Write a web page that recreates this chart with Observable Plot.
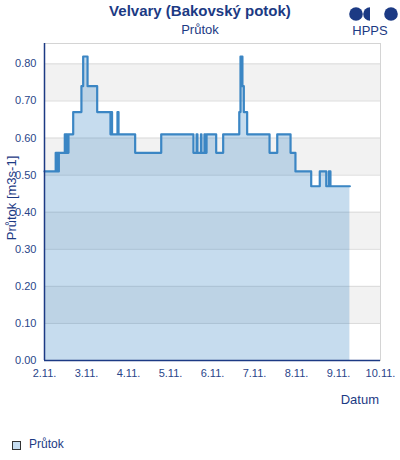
<!DOCTYPE html>
<html>
<head>
<meta charset="utf-8">
<script src="https://cdn.jsdelivr.net/npm/d3@7"></script>
<script src="https://cdn.jsdelivr.net/npm/@observablehq/plot@0.6"></script>
<style>
  html, body { margin: 0; padding: 0; background: #fff; }
  body { width: 400px; height: 460px; position: relative; overflow: hidden; font-family: "Liberation Sans", Arial, sans-serif; color: #1c3a84; }
  .abs { position: absolute; white-space: nowrap; }
  #chart { position: absolute; left: 0; top: 0; }
</style>
</head>
<body>
<div id="chart"></div>
<div class="abs" style="left:0;width:400px;top:2px;text-align:center;font-size:15px;font-weight:bold;">Velvary (Bakovský potok)</div>
<div class="abs" style="left:0;width:400px;top:22px;text-align:center;font-size:13px;">Průtok</div>
<svg class="abs" style="left:340px;top:0px;" width="60" height="40">
  <circle cx="16" cy="14" r="6.8" fill="#1c3a84"/>
  <path d="M30,7.2 A6.8,6.8 0 0 0 30,20.8 Z" fill="#1c3a84"/>
  <circle cx="51" cy="14" r="6.8" fill="#1c3a84"/>
  <text x="30" y="35" text-anchor="middle" font-size="13" fill="#1c3a84" font-family="Liberation Sans, Arial, sans-serif">HPPS</text>
</svg>
<div class="abs" style="left:11px;top:198px;font-size:13px;transform:translate(-50%,-50%) rotate(-90deg);">Průtok [m3s-1]</div>
<div class="abs" style="right:21px;top:392px;font-size:13px;">Datum</div>
<div class="abs" style="left:12px;top:441px;width:7px;height:7px;border:1px solid #333;background:#c6ddf0;"></div>
<div class="abs" style="left:29px;top:437px;font-size:12px;">Průtok</div>
<script>
// Data (step series, time of change -> flow in m3/s)
const times = [
  "2023-11-02T00:00","2023-11-02T06:24","2023-11-02T06:54","2023-11-02T07:18","2023-11-02T07:48","2023-11-02T08:12",
  "2023-11-02T11:36","2023-11-02T12:12","2023-11-02T12:36","2023-11-02T13:12","2023-11-02T13:42","2023-11-02T16:24",
  "2023-11-02T21:06","2023-11-02T22:06","2023-11-03T00:36","2023-11-03T06:06","2023-11-03T13:42","2023-11-03T14:12",
  "2023-11-03T14:36","2023-11-03T17:42","2023-11-03T18:18","2023-11-04T03:48","2023-11-04T18:42","2023-11-05T13:06",
  "2023-11-05T14:54","2023-11-05T15:24","2023-11-05T17:24","2023-11-05T17:42","2023-11-05T19:24","2023-11-05T20:00",
  "2023-11-05T20:36","2023-11-06T02:06","2023-11-06T06:06","2023-11-06T15:18","2023-11-06T16:00","2023-11-06T17:06",
  "2023-11-06T17:54","2023-11-06T19:48","2023-11-07T08:36","2023-11-07T13:00","2023-11-07T20:36","2023-11-07T23:24",
  "2023-11-08T08:24","2023-11-08T13:18","2023-11-08T17:00","2023-11-08T18:30","2023-11-08T19:24","2023-11-09T06:30"
];
const flows = [
  0.51,0.56,0.51,0.56,0.51,0.56,
  0.61,0.56,0.61,0.56,0.61,0.67,
  0.74,0.82,0.74,0.67,0.61,0.67,
  0.61,0.67,0.61,0.56,0.61,0.56,
  0.61,0.56,0.61,0.56,0.61,0.56,
  0.61,0.56,0.61,0.67,0.82,0.74,
  0.67,0.61,0.56,0.61,0.56,0.51,
  0.47,0.51,0.47,0.51,0.47,0.47
];
const xTicks = ["2023-11-02","2023-11-03","2023-11-04","2023-11-05","2023-11-06","2023-11-07","2023-11-08","2023-11-09","2023-11-10"];
const yTicks = [0, 0.1, 0.2, 0.3, 0.4, 0.5, 0.6, 0.7, 0.8];
const bandStarts = [0.1, 0.3, 0.5, 0.7];

const parse = d3.utcParse("%Y-%m-%dT%H:%M");
const data = times.map((t, i) => ({date: parse(t), flow: flows[i]}));
const xT = xTicks.map(d => d3.utcParse("%Y-%m-%d")(d));
const x0 = xT[0], x1 = xT[xT.length - 1];
const bands = bandStarts.map(b => ({y1: b, y2: b + 0.1}));

const navy = "#1c3a84";
const blue = "#3b86c4";

const chart = Plot.plot({
  width: 400,
  height: 410,
  marginLeft: 44,
  marginRight: 20,
  marginTop: 43,
  marginBottom: 50,
  style: {fontFamily: "Liberation Sans, Arial, sans-serif", fontSize: "11px", color: navy, background: "transparent"},
  x: {type: "utc", domain: [x0, x1]},
  y: {domain: [0, 0.855]},
  marks: [
    Plot.rect(bands, {x1: () => x0, x2: () => x1, y1: "y1", y2: "y2", fill: "#f2f2f2"}),
    Plot.ruleY(yTicks.slice(1), {stroke: "#dadada", strokeWidth: 1}),
    Plot.frame({stroke: "#d4d4d4"}),
    Plot.areaY(data, {x: "date", y: "flow", curve: "step-after", fill: blue, fillOpacity: 0.29}),
    Plot.line(data, {x: "date", y: "flow", curve: "step-after", stroke: blue, strokeWidth: 2.2}),
    Plot.axisY({ticks: yTicks, tickFormat: d3.format(".2f"), tickSize: 0, tickPadding: 8, label: null, fill: "#2a4589"}),
    Plot.axisX({ticks: xT, tickFormat: d => `${d.getUTCDate()}.${d.getUTCMonth() + 1}.`, tickSize: 0, tickPadding: 9, label: null, fill: "#2a4589"}),
    Plot.ruleX([x0], {stroke: navy, strokeWidth: 1.5}),
    Plot.ruleY([0], {stroke: navy, strokeWidth: 1.5})
  ]
});
document.getElementById("chart").appendChild(chart);
</script>
</body>
</html>
